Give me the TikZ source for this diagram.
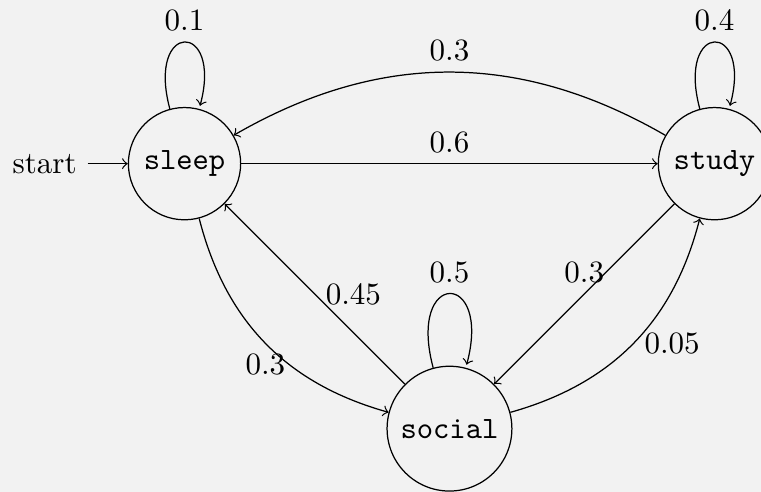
\documentclass[tikz,border=0pt]{standalone}
\usetikzlibrary{automata}
\definecolor{paper}{RGB}{242,242,242}
\begin{document}
\begin{tikzpicture}[->, >=to, every state/.style={draw, fill=paper}]
  % page area and background
  \fill[paper] (-2.089,-3.717) rectangle (6.527,1.853);
  \clip (-2.089,-3.717) rectangle (6.527,1.853);
  \useasboundingbox (-2.089,-3.717) rectangle (6.527,1.853);

  % states
  \node[state, initial, initial text=start] (sleep)  at (0,0)  {\texttt{sleep}};
  \node[state]                              (study)  at (6,0)  {\texttt{study}};
  \node[state]                              (social) at (3,-3) {\texttt{social}};

  % transitions
  \path (sleep)  edge[loop above] node {0.1} ()
                 edge node[above] {0.6} (study)
                 edge[bend right] node[below] {0.3} (social);
  \path (study)  edge[loop above] node {0.4} ()
                 edge[bend right] node[above] {0.3} (sleep)
                 edge node[above] {0.3} (social);
  \path (social) edge[loop above] node {0.5} ()
                 edge node[right] {0.45} (sleep)
                 edge[bend right] node[right] {0.05} (study);
\end{tikzpicture}
\end{document}
